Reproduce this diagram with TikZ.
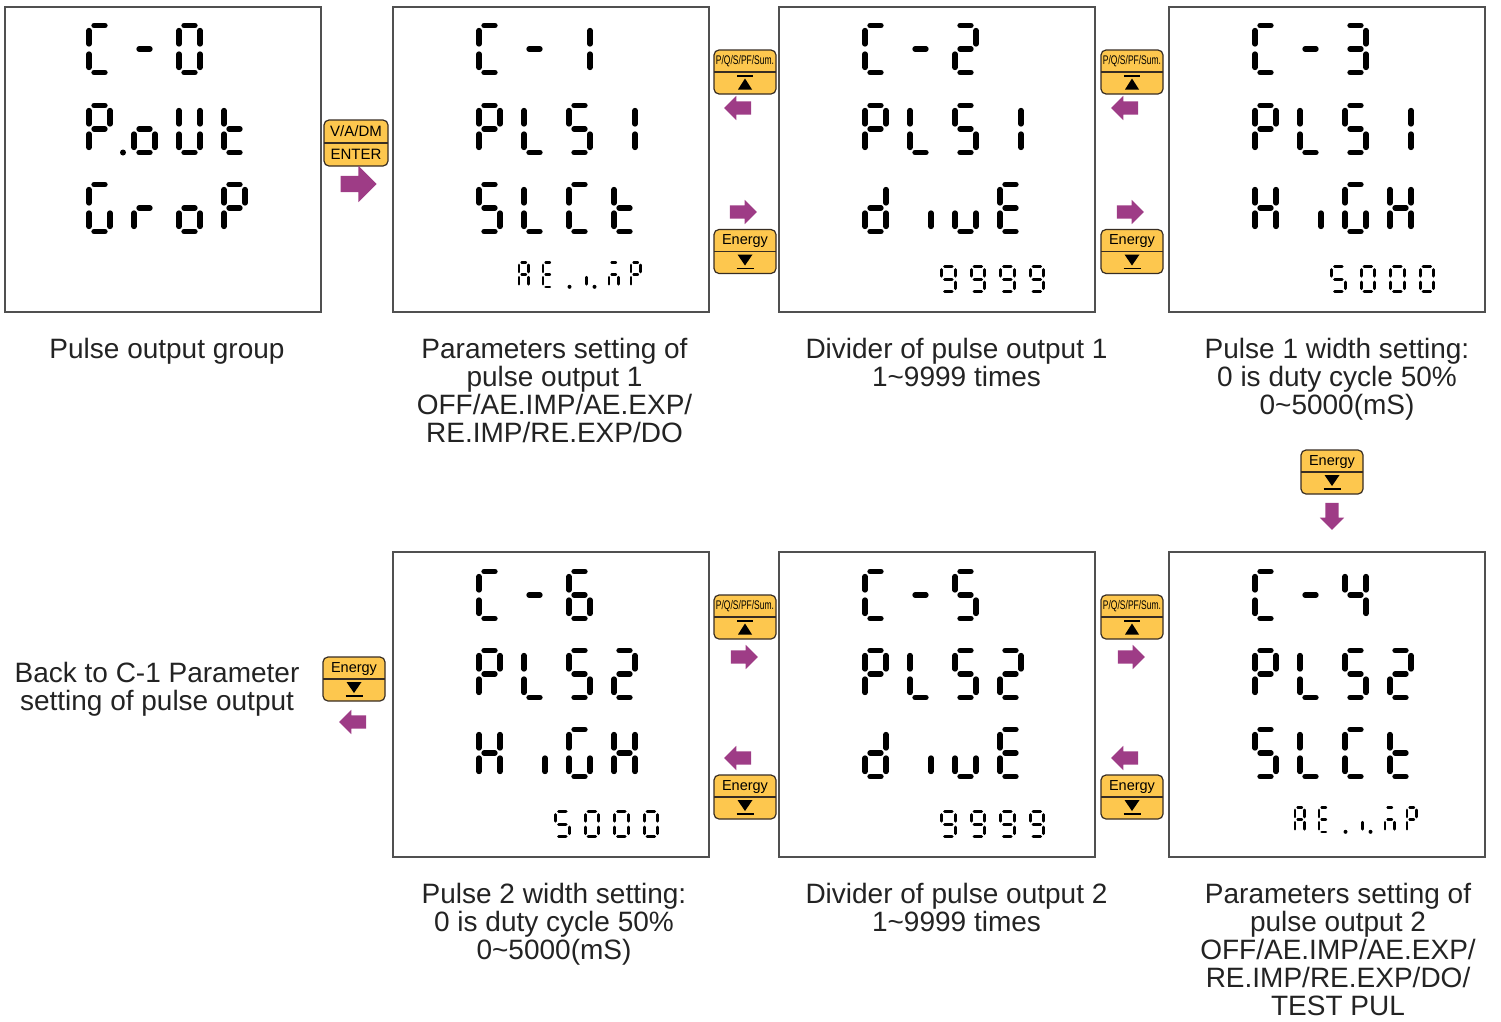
\documentclass[tikz,border=0pt]{standalone}
\usepackage{fontspec}
\setmainfont{Liberation Sans}
\usepackage{graphicx}
\usetikzlibrary{positioning,shapes.arrows}

\definecolor{keyfill}{RGB}{253,199,78}
\definecolor{keyline}{RGB}{55,45,35}
\definecolor{arrowpurple}{RGB}{158,60,134}
\definecolor{lcdline}{RGB}{80,80,80}
\definecolor{txtgray}{RGB}{35,35,35}

\newcommand{\lblfont}{\fontsize{28}{28}\selectfont}

% seven-segment sizes: width, height, gap, stroke, dot
\newcommand{\lcdbig}{\def\lcdw{21}\def\lcdh{47}\def\lcdg{5}\def\lcdt{5.3}\def\lcddot{3}}
\newcommand{\lcdnum}{\def\lcdw{13.5}\def\lcdh{25}\def\lcdg{3}\def\lcdt{3}\def\lcddot{2}}
\newcommand{\lcdtiny}{\def\lcdw{9.5}\def\lcdh{24.5}\def\lcdg{2.6}\def\lcdt{2.6}\def\lcddot{2}}

% one row of a screen: x, y, size, list of offset/segments
\newcommand{\lcdrow}[4]{%
  #3%
  \foreach \ox/\sg in #4{%
    \def\lcdx{#1+\ox}\def\lcdy{#2}%
    \foreach \sgm in \sg{%
      \if a\sgm \draw[lcdseg] (\lcdx+\lcdg,\lcdy) -- (\lcdx+\lcdw-\lcdg,\lcdy);\fi
      \if b\sgm \draw[lcdseg] (\lcdx+\lcdw,\lcdy+\lcdg) -- (\lcdx+\lcdw,\lcdy+\lcdh/2-\lcdg);\fi
      \if c\sgm \draw[lcdseg] (\lcdx+\lcdw,\lcdy+\lcdh/2+\lcdg) -- (\lcdx+\lcdw,\lcdy+\lcdh-\lcdg);\fi
      \if d\sgm \draw[lcdseg] (\lcdx+\lcdg,\lcdy+\lcdh) -- (\lcdx+\lcdw-\lcdg,\lcdy+\lcdh);\fi
      \if e\sgm \draw[lcdseg] (\lcdx,\lcdy+\lcdh/2+\lcdg) -- (\lcdx,\lcdy+\lcdh-\lcdg);\fi
      \if f\sgm \draw[lcdseg] (\lcdx,\lcdy+\lcdg) -- (\lcdx,\lcdy+\lcdh/2-\lcdg);\fi
      \if g\sgm \draw[lcdseg] (\lcdx+\lcdg,\lcdy+\lcdh/2) -- (\lcdx+\lcdw-\lcdg,\lcdy+\lcdh/2);\fi
      \if p\sgm \fill (\lcdx,\lcdy+\lcdh) circle (\lcddot pt);\fi
    }}}

% screen rows
\def\rowCzero{86/{a,d,e,f},131/{g},176/{a,b,c,d,e,f}}
\def\rowCone{86/{a,d,e,f},131/{g},176/{b,c}}
\def\rowCtwo{86/{a,d,e,f},131/{g},176/{a,b,d,e,g}}
\def\rowCthree{86/{a,d,e,f},131/{g},176/{a,b,c,d,g}}
\def\rowCfour{86/{a,d,e,f},131/{g},176/{b,c,f,g}}
\def\rowCfive{86/{a,d,e,f},131/{g},176/{a,c,d,f,g}}
\def\rowCsix{86/{a,d,e,f},131/{g},176/{a,c,d,e,f,g}}
\def\rowPout{86/{a,b,e,f,g},120/{p},131/{c,d,e,g},176/{b,c,d,e,f},221/{d,e,f,g}}
\def\rowGrop{86/{a,c,d,e,f},131/{e,g},176/{c,d,e,g},221/{a,b,e,f,g}}
\def\rowPLSone{86/{a,b,e,f,g},131/{d,e,f},176/{a,c,d,f,g},221/{b,c}}
\def\rowPLStwo{86/{a,b,e,f,g},131/{d,e,f},176/{a,c,d,f,g},221/{a,b,d,e,g}}
\def\rowSLCt{86/{a,c,d,f,g},131/{d,e,f},176/{a,d,e,f},221/{d,e,f,g}}
\def\rowdivE{86/{b,c,d,e,g},131/{c},176/{c,d,e},221/{a,d,e,f,g}}
\def\rowHiGH{86/{b,c,e,f,g},131/{c},176/{a,c,d,e,f},221/{b,c,e,f,g}}
\def\rowAEimP{126/{a,b,c,e,f,g},150/{a,d,e,f,g},176.5/{p},193.5/{e},201.5/{p},216/{a,c,e,g},238/{a,b,e,f,g}}
\def\rowNines{162.5/{a,b,c,d,f,g},192/{a,b,c,d,f,g},221.5/{a,b,c,d,f,g},251/{a,b,c,d,f,g}}
\def\rowFivek{162.5/{a,c,d,f,g},192/{a,b,c,d,e,f},221.5/{a,b,c,d,e,f},251/{a,b,c,d,e,f}}

\tikzset{
  lcdseg/.style={line width=\lcdt pt, line cap=round, black},
  lcdbox/.style={draw=lcdline, line width=1.5pt, minimum width=316pt, minimum height=305pt, inner sep=0, outer sep=0},
  captext/.style={font=\lblfont, align=center, inner sep=0, text=txtgray},
  keybox/.style={draw=keyline, fill=keyfill, rounded corners=5pt, line width=1.2pt, minimum width=62pt, minimum height=44pt, inner sep=0, outer sep=0},
  keytext/.style={font=\fontsize{14.5}{15}\selectfont, inner sep=0},
  barrow/.style={single arrow, fill=arrowpurple, draw=none, inner xsep=0, inner ysep=6.5pt, outer sep=0, minimum height=27pt, single arrow head extend=5.5pt},
  bigbarrow/.style={barrow, inner ysep=8pt, minimum height=36pt, single arrow head extend=10pt},
  upkey/.pic={
    \node[keybox] (-k) {};
    \draw[keyline, line width=1.2pt] (-31,0) -- (31,0);
    \node[keytext] (-t) at (0,-10.5) {\scalebox{0.68}[1]{\fontsize{12.5}{13}\selectfont P/Q/S/PF/Sum.}};
    \draw[line width=1.6pt] (-8,4) -- (8,4);
    \fill (-7,17.5) -- (7,17.5) -- (0,6.5) -- cycle;
  },
  downkey/.pic={
    \node[keybox] (-k) {};
    \draw[keyline, line width=1.2pt] (-31,0) -- (31,0);
    \node[keytext] (-t) at (0,-10) {Energy};
    \fill (-7.5,3) -- (7.5,3) -- (0,14) -- cycle;
    \draw[line width=1.6pt] (-8.5,16.8) -- (8.5,16.8);
  },
  enterkey/.pic={
    \node[keybox, minimum width=64pt, minimum height=46pt] (-k) {};
    \draw[keyline, line width=1.2pt] (-32,0) -- (32,0);
    \node[keytext, font=\fontsize{15}{15}\selectfont] (-t) at (0,-11.5) {V/A/DM};
    \node[keytext, font=\fontsize{15}{15}\selectfont] (-b) at (0,11.5) {ENTER};
  }
}

\begin{document}
\begin{tikzpicture}[x=1pt,y=-1pt]
  \useasboundingbox (0,0) rectangle (1501,1021);

  % screens
  \node[lcdbox] (c0) at (163,159.5) {};
  \node[lcdbox, right=72pt of c0] (c1) {};
  \node[lcdbox, right=70pt of c1] (c2) {};
  \node[lcdbox, right=74pt of c2] (c3) {};
  \node[lcdbox, below=240pt of c3] (c4) {};
  \node[lcdbox, left=74pt of c4] (c5) {};
  \node[lcdbox, left=70pt of c5] (c6) {};

  % C-0
  \lcdrow{3}{25.5}{\lcdbig}{\rowCzero}
  \lcdrow{3}{105.5}{\lcdbig}{\rowPout}
  \lcdrow{3}{184.5}{\lcdbig}{\rowGrop}
  % C-1
  \lcdrow{393}{25.5}{\lcdbig}{\rowCone}
  \lcdrow{393}{105.5}{\lcdbig}{\rowPLSone}
  \lcdrow{393}{184.5}{\lcdbig}{\rowSLCt}
  \lcdrow{393}{262.3}{\lcdtiny}{\rowAEimP}
  % C-2
  \lcdrow{779}{25.5}{\lcdbig}{\rowCtwo}
  \lcdrow{779}{105.5}{\lcdbig}{\rowPLSone}
  \lcdrow{779}{184.5}{\lcdbig}{\rowdivE}
  \lcdrow{779}{266.5}{\lcdnum}{\rowNines}
  % C-3
  \lcdrow{1169}{25.5}{\lcdbig}{\rowCthree}
  \lcdrow{1169}{105.5}{\lcdbig}{\rowPLSone}
  \lcdrow{1169}{184.5}{\lcdbig}{\rowHiGH}
  \lcdrow{1169}{266.5}{\lcdnum}{\rowFivek}
  % C-4
  \lcdrow{1169}{571.5}{\lcdbig}{\rowCfour}
  \lcdrow{1169}{650.5}{\lcdbig}{\rowPLStwo}
  \lcdrow{1169}{729.5}{\lcdbig}{\rowSLCt}
  \lcdrow{1169}{807.3}{\lcdtiny}{\rowAEimP}
  % C-5
  \lcdrow{779}{571.5}{\lcdbig}{\rowCfive}
  \lcdrow{779}{650.5}{\lcdbig}{\rowPLStwo}
  \lcdrow{779}{729.5}{\lcdbig}{\rowdivE}
  \lcdrow{779}{811.5}{\lcdnum}{\rowNines}
  % C-6
  \lcdrow{393}{571.5}{\lcdbig}{\rowCsix}
  \lcdrow{393}{650.5}{\lcdbig}{\rowPLStwo}
  \lcdrow{393}{729.5}{\lcdbig}{\rowHiGH}
  \lcdrow{393}{811.5}{\lcdnum}{\rowFivek}

  % captions
  \node[captext, below=26pt of c0, xshift=4pt] (t0) {Pulse output group};
  \node[captext, below=26pt of c1, xshift=3.5pt] (t1) {Parameters setting of\\pulse output 1\\OFF/AE.IMP/AE.EXP/\\RE.IMP/RE.EXP/DO};
  \node[captext, below=26pt of c2, xshift=19.5pt] (t2) {Divider of pulse output 1\\1\textasciitilde9999 times};
  \node[captext, below=26pt of c3, xshift=10pt] (t3) {Pulse 1 width setting:\\0 is duty cycle 50\%\\0\textasciitilde5000(mS)};
  \node[captext, below=26pt of c4, xshift=11pt] (t4) {Parameters setting of\\pulse output 2\\OFF/AE.IMP/AE.EXP/\\RE.IMP/RE.EXP/DO/\\TEST PUL};
  \node[captext, below=26pt of c5, xshift=19.5pt] (t5) {Divider of pulse output 2\\1\textasciitilde9999 times};
  \node[captext, below=26pt of c6, xshift=3pt] (t6) {Pulse 2 width setting:\\0 is duty cycle 50\%\\0\textasciitilde5000(mS)};
  \node[captext, anchor=north] (tb) at (157,662) {Back to C-1 Parameter\\setting of pulse output};

  % keys and arrows
  \pic (ent) at (356,143) {enterkey};
  \node[bigbarrow] (a0) at (354.5,184) {};

  \pic (up1) at (745,72) {upkey};
  \node[barrow, shape border rotate=180] (al1) at (741,108) {};
  \node[barrow] (ar1) at (740,212) {};
  \pic (dn1) at (745,251.5) {downkey};

  \pic (up2) at (1132,72) {upkey};
  \node[barrow, shape border rotate=180] (al2) at (1128,108) {};
  \node[barrow] (ar2) at (1127,212) {};
  \pic (dn2) at (1132,251.5) {downkey};

  \pic (dn3) at (1332,472) {downkey};
  \node[barrow, rotate=-90] (ad3) at (1332,513) {};

  \pic (up4) at (1132,617) {upkey};
  \node[barrow] (ar4) at (1128,657) {};
  \node[barrow, shape border rotate=180] (al4) at (1128,758) {};
  \pic (dn4) at (1132,797) {downkey};

  \pic (up5) at (745,617) {upkey};
  \node[barrow] (ar5) at (741,657) {};
  \node[barrow, shape border rotate=180] (al5) at (741,758) {};
  \pic (dn5) at (745,797) {downkey};

  \pic (dn6) at (354,679) {downkey};
  \node[barrow, shape border rotate=180] (al6) at (356,722) {};
\end{tikzpicture}
\end{document}
